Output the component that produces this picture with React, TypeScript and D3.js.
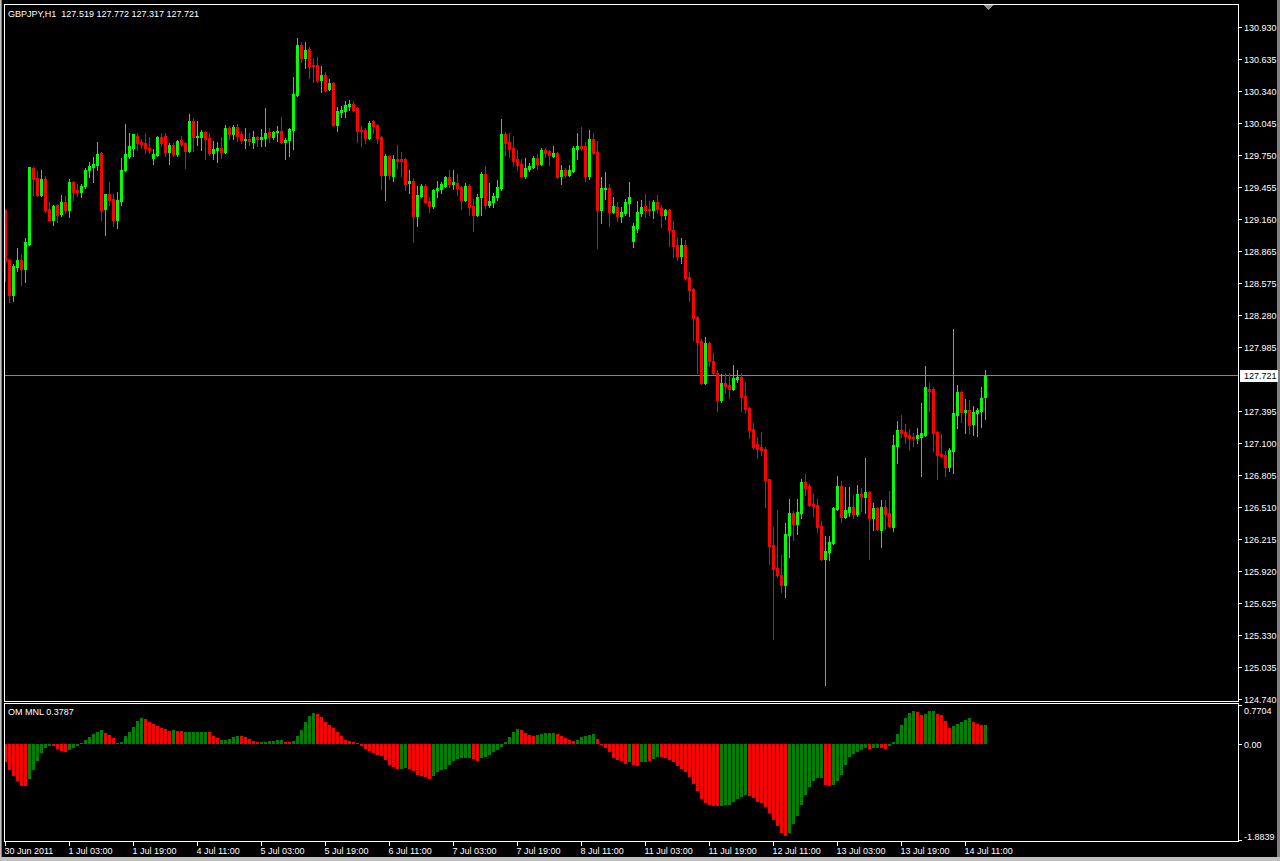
import React from "react";
import * as d3 from "d3";

const SYMBOL_TITLE = "GBPJPY,H1  127.519 127.772 127.317 127.721";
const INDICATOR_TITLE = "OM MNL 0.3787";

const OPEN = [
129.24,128.78,128.46,128.72,128.78,128.70,128.93,129.63,129.54,129.38,
129.53,129.25,129.15,129.29,129.21,129.32,129.24,129.50,129.43,129.41,
129.47,129.61,129.64,129.66,129.77,129.25,129.39,129.35,129.15,129.33,
129.61,129.74,129.82,129.93,129.87,129.86,129.82,129.72,129.75,129.92,
129.93,129.78,129.84,129.76,129.89,129.86,129.79,130.06,129.92,129.92,
129.96,129.91,129.77,129.80,129.82,129.78,130.00,129.94,130.01,129.94,
129.89,129.90,129.87,129.92,129.90,129.91,129.96,129.92,129.96,129.97,
129.87,129.89,129.98,130.30,130.76,130.64,130.73,130.58,130.58,130.44,
130.49,130.36,130.41,130.03,130.15,130.16,130.20,130.22,130.18,129.98,
129.98,129.91,130.06,130.03,129.92,129.57,129.74,129.56,129.71,129.71,
129.71,129.49,129.51,129.19,129.37,129.47,129.33,129.28,129.43,129.44,
129.47,129.55,129.48,129.49,129.46,129.34,129.47,129.28,129.20,129.36,
129.58,129.29,129.32,129.36,129.45,129.94,129.87,129.82,129.71,129.67,
129.56,129.62,129.64,129.72,129.67,129.80,129.79,129.74,129.77,129.56,
129.61,129.57,129.60,129.81,129.83,129.83,129.56,129.90,129.78,129.24,
129.44,129.45,129.23,129.27,129.19,129.22,129.31,128.96,129.08,129.22,
129.28,129.25,129.24,129.32,129.26,129.20,129.24,129.06,128.92,128.82,
128.92,128.63,128.52,128.26,128.04,127.65,128.02,127.85,127.74,127.49,
127.65,127.63,127.60,127.69,127.71,127.53,127.42,127.23,127.09,127.06,
127.04,126.77,126.16,125.95,125.88,125.79,126.25,126.45,126.35,126.45,
126.74,126.70,126.54,126.53,126.33,126.03,126.09,126.18,126.49,126.70,
126.42,126.46,126.51,126.44,126.63,126.60,126.65,126.41,126.50,126.30,
126.51,126.45,126.32,127.07,127.22,127.20,127.17,127.15,127.14,127.15,
127.17,127.60,127.60,127.20,127.00,126.99,126.88,127.02,127.36,127.57,
127.38,127.40,127.27,127.37,127.39,127.519];

const HIGH = [
129.25,128.79,128.75,128.89,128.84,128.99,129.64,129.64,129.60,129.61,
129.56,129.32,129.29,129.30,129.38,129.37,129.53,129.51,129.48,129.48,
129.63,129.69,129.73,129.87,129.78,129.39,129.50,129.39,129.41,129.72,
130.04,129.95,129.94,129.95,129.90,129.95,129.92,129.81,129.93,129.95,
129.95,129.86,129.86,129.89,129.93,129.87,130.13,130.09,130.06,129.98,
129.97,129.95,129.88,129.87,129.92,130.03,130.02,130.03,130.04,129.97,
130.00,129.95,129.97,129.93,129.99,130.18,130.00,129.97,130.02,130.10,
129.91,130.00,130.47,130.83,130.79,130.79,130.75,130.64,130.65,130.57,
130.52,130.45,130.42,130.19,130.20,130.25,130.26,130.25,130.19,130.02,
130.00,130.06,130.07,130.04,129.93,129.76,129.75,129.75,129.84,129.78,
129.72,129.61,129.54,129.47,129.48,129.48,129.36,129.44,129.51,129.50,
129.56,129.61,129.61,129.58,129.47,129.49,129.48,129.35,129.39,129.59,
129.65,129.49,129.40,129.52,130.08,129.96,129.95,129.93,129.80,129.71,
129.72,129.68,129.74,129.76,129.82,129.82,129.80,129.83,129.78,129.66,
129.63,129.66,129.83,129.95,130.01,129.87,129.98,129.95,129.88,129.55,
129.59,129.48,129.36,129.32,129.27,129.35,129.50,129.12,129.33,129.34,
129.39,129.33,129.34,129.38,129.29,129.25,129.25,129.14,129.00,128.99,
128.97,128.67,128.53,128.27,128.06,128.07,128.03,127.93,127.77,127.73,
127.74,127.74,127.82,127.77,127.74,127.66,127.43,127.28,127.15,127.20,
127.06,126.77,126.32,126.48,126.07,126.36,126.58,126.47,126.58,126.77,
126.81,126.72,126.64,126.58,126.38,126.24,126.24,126.51,126.79,126.75,
126.69,126.69,126.62,126.71,126.68,126.96,126.66,126.55,126.51,126.57,
126.57,126.66,127.17,127.30,127.36,127.27,127.23,127.19,127.24,127.47,
127.81,127.65,127.61,127.21,127.18,127.02,127.05,128.15,127.63,127.58,
127.50,127.49,127.44,127.42,127.61,127.772];

const LOW = [
128.59,128.40,128.41,128.68,128.55,128.58,128.92,129.38,129.37,129.37,
129.23,129.14,129.11,129.13,129.19,129.22,129.18,129.34,129.37,129.36,
129.45,129.55,129.50,129.61,129.15,129.01,129.29,129.10,129.08,129.29,
129.60,129.72,129.74,129.80,129.82,129.77,129.77,129.67,129.74,129.83,
129.74,129.67,129.74,129.74,129.83,129.63,129.78,129.79,129.84,129.80,
129.71,129.75,129.71,129.69,129.72,129.77,129.90,129.90,129.88,129.86,
129.82,129.84,129.82,129.83,129.83,129.83,129.87,129.90,129.88,129.86,
129.71,129.74,129.81,130.29,130.61,130.55,130.46,130.42,130.42,130.33,
130.34,130.35,130.02,129.97,130.10,130.10,130.17,130.16,129.87,129.83,
129.86,129.90,129.95,129.86,129.44,129.34,129.53,129.51,129.63,129.56,
129.43,129.40,128.95,129.10,129.36,129.31,129.23,129.26,129.36,129.40,
129.46,129.46,129.44,129.38,129.25,129.33,129.20,129.05,129.19,129.20,
129.26,129.27,129.27,129.34,129.43,129.75,129.73,129.65,129.61,129.55,
129.54,129.60,129.63,129.62,129.66,129.73,129.66,129.73,129.54,129.48,
129.55,129.56,129.59,129.71,129.80,129.51,129.53,129.76,128.89,129.12,
129.35,129.10,129.22,129.14,129.13,129.20,129.19,128.90,129.04,129.19,
129.18,129.20,129.17,129.22,129.09,129.16,128.91,128.81,128.78,128.76,
128.61,128.41,128.05,127.74,127.64,127.64,127.81,127.73,127.39,127.48,
127.56,127.51,127.59,127.66,127.39,127.37,127.14,127.04,126.96,126.99,
126.51,125.98,125.29,125.86,125.73,125.68,126.05,126.20,126.26,126.41,
126.62,126.52,126.43,126.28,126.02,124.87,126.02,126.17,126.48,126.37,
126.41,126.43,126.41,126.43,126.47,126.45,126.03,126.30,126.30,126.14,
126.31,126.32,126.29,126.91,127.15,127.10,127.03,127.07,127.10,126.79,
127.16,127.39,127.02,126.77,126.97,126.79,126.84,126.82,127.24,127.29,
127.19,127.18,127.17,127.16,127.25,127.317];

const CLOSE = [
128.77,128.46,128.73,128.78,128.70,128.95,129.64,129.53,129.38,129.53,
129.24,129.15,129.28,129.20,129.32,129.24,129.50,129.41,129.41,129.47,
129.61,129.65,129.67,129.76,129.24,129.39,129.34,129.15,129.34,129.61,
129.76,129.83,129.94,129.86,129.85,129.82,129.80,129.76,129.92,129.86,
129.78,129.84,129.76,129.88,129.85,129.79,130.06,129.92,129.93,129.96,
129.90,129.77,129.81,129.82,129.78,130.00,129.94,130.01,129.93,129.89,
129.90,129.88,129.92,129.90,129.92,129.95,129.92,129.96,129.97,129.87,
129.89,129.99,130.31,130.76,130.64,130.72,130.57,130.57,130.44,130.49,
130.35,130.41,130.03,130.16,130.17,130.21,130.22,130.17,129.97,129.97,
129.91,130.05,130.02,129.91,129.57,129.74,129.57,129.71,129.70,129.70,
129.48,129.51,129.19,129.38,129.47,129.32,129.28,129.43,129.45,129.48,
129.55,129.48,129.50,129.45,129.34,129.47,129.27,129.20,129.36,129.58,
129.29,129.33,129.37,129.46,129.94,129.86,129.81,129.70,129.66,129.56,
129.63,129.65,129.72,129.67,129.80,129.77,129.75,129.77,129.55,129.61,
129.57,129.61,129.82,129.83,129.82,129.56,129.90,129.77,129.24,129.45,
129.45,129.23,129.28,129.19,129.23,129.32,129.36,129.10,129.23,129.27,
129.24,129.24,129.32,129.25,129.20,129.24,129.06,128.91,128.82,128.92,
128.62,128.51,128.25,128.03,127.65,128.02,127.85,127.74,127.49,127.65,
127.62,127.60,127.70,127.71,127.52,127.41,127.22,127.06,127.04,127.03,
126.76,126.15,125.94,125.88,125.79,126.26,126.45,126.35,126.46,126.74,
126.68,126.53,126.52,126.32,126.03,126.10,126.19,126.50,126.70,126.42,
126.48,126.51,126.44,126.63,126.61,126.65,126.41,126.50,126.31,126.51,
126.44,126.33,127.08,127.22,127.19,127.16,127.14,127.14,127.17,127.19,
127.61,127.58,127.19,126.99,126.98,126.88,127.03,127.37,127.57,127.38,
127.40,127.26,127.38,127.40,127.51,127.721];

const HIST = [
-0.35,-0.50,-0.63,-0.73,-0.83,-0.83,-0.69,-0.50,-0.34,-0.18,
-0.08,-0.04,-0.04,-0.10,-0.14,-0.16,-0.12,-0.08,-0.04,0.02,
0.08,0.14,0.20,0.24,0.28,0.22,0.18,0.12,0.02,0.04,
0.16,0.24,0.34,0.46,0.51,0.50,0.44,0.40,0.36,0.32,
0.30,0.26,0.28,0.26,0.26,0.24,0.24,0.24,0.24,0.24,
0.24,0.24,0.16,0.12,0.08,0.08,0.10,0.14,0.16,0.16,
0.14,0.10,0.06,0.04,0.04,0.04,0.06,0.06,0.08,0.08,
0.04,0.04,0.06,0.16,0.28,0.44,0.55,0.61,0.59,0.53,
0.44,0.38,0.32,0.24,0.16,0.08,0.06,0.04,0.02,-0.04,
-0.10,-0.14,-0.18,-0.22,-0.23,-0.32,-0.40,-0.44,-0.48,-0.48,
-0.46,-0.48,-0.53,-0.61,-0.63,-0.65,-0.69,-0.63,-0.55,-0.51,
-0.48,-0.40,-0.34,-0.30,-0.28,-0.28,-0.28,-0.30,-0.34,-0.28,
-0.26,-0.22,-0.16,-0.12,-0.06,0.04,0.14,0.24,0.30,0.28,
0.22,0.18,0.16,0.18,0.20,0.22,0.22,0.22,0.20,0.16,
0.12,0.08,0.06,0.08,0.14,0.16,0.18,0.20,0.10,-0.02,
-0.08,-0.16,-0.28,-0.32,-0.34,-0.38,-0.36,-0.40,-0.42,-0.36,
-0.36,-0.34,-0.30,-0.26,-0.26,-0.28,-0.32,-0.36,-0.42,-0.48,
-0.55,-0.65,-0.79,-0.93,-1.07,-1.15,-1.19,-1.21,-1.21,-1.21,
-1.19,-1.19,-1.13,-1.07,-1.03,-0.99,-1.01,-1.05,-1.13,-1.15,
-1.23,-1.35,-1.50,-1.60,-1.74,-1.80,-1.74,-1.56,-1.41,-1.19,
-0.99,-0.85,-0.73,-0.67,-0.67,-0.81,-0.83,-0.81,-0.73,-0.61,
-0.40,-0.26,-0.20,-0.16,-0.12,-0.08,-0.10,-0.08,-0.08,-0.08,
-0.10,-0.03,0.04,0.20,0.38,0.51,0.61,0.65,0.63,0.57,
0.59,0.65,0.65,0.59,0.57,0.46,0.32,0.36,0.40,0.44,
0.48,0.51,0.44,0.40,0.38,0.3787];

// G = rising (green) bar, R = falling (red) bar
const HIST_DIR = (
  "RRRRRR GGGGGG RRRR GGGGGGGGG RRRR GGGGGG RRRRRRR G RR GGGGGG RRR GGGGG RRRRR GGGGGG RR GGGGGG " +
  "RRRRRRRRRRRRRRRRRRRRR GG RRRRRR GGGGGGGGGG RR GGGGGGGGGG RRRR GGGGG RRRRR GGGGG RRRRRRRR G RR GG R GG " +
  "RRRRRRRRRRRRRRR GGGGGGG RRRRRRRRRR GGGGGGGGG RR GGGGGGGGG R GG RR GGGGGGG RR GGG RRRR GGGGG RRR G"
).replace(/\s/g, "");

const TIME_LABELS = [
  "30 Jun 2011", "1 Jul 03:00", "1 Jul 19:00", "4 Jul 11:00", "5 Jul 03:00", "5 Jul 19:00",
  "6 Jul 11:00", "7 Jul 03:00", "7 Jul 19:00", "8 Jul 11:00", "11 Jul 03:00", "11 Jul 19:00",
  "12 Jul 11:00", "13 Jul 03:00", "13 Jul 19:00", "14 Jul 11:00",
];
const TIME_LABEL_BARS = [0, 16, 32, 48, 64, 80, 96, 112, 128, 144, 160, 176, 192, 208, 224, 240];

const PRICE_TICKS = [
  130.93, 130.635, 130.34, 130.045, 129.75, 129.455, 129.16, 128.865, 128.575, 128.28,
  127.985, 127.395, 127.1, 126.805, 126.51, 126.215, 125.92, 125.625, 125.33, 125.035, 124.74,
];
const CURRENT_PRICE = 127.721;
const IND_MAX = 0.7704;
const IND_MIN = -1.8839;
const PRICE_MAX = 130.93;
const PRICE_MIN = 124.74;

const FONT = "Tahoma, 'Liberation Sans', Arial, sans-serif";
const BULL = "#00ff00";
const BEAR = "#ff0000";
const H_UP = "#008000";
const H_DN = "#ff0000";

export default function App() {
  const n = Math.min(OPEN.length, HIGH.length, LOW.length, CLOSE.length);
  const x = d3.scaleLinear().domain([0, n - 1]).range([5, 985]);
  const y = d3.scaleLinear().domain([PRICE_MIN, PRICE_MAX]).range([699, 27]);
  const yi = d3.scaleLinear().domain([IND_MIN, IND_MAX]).range([840, 705]);

  const candles = d3.range(n).map((i) => {
    const o = OPEN[i], h = HIGH[i], l = LOW[i], c = CLOSE[i];
    const cx = Math.round(x(i));
    const bull = c >= o;
    const col = bull ? BULL : BEAR;
    const yh = Math.round(y(h));
    const yl = Math.round(y(l));
    const yt = Math.round(y(Math.max(o, c)));
    const yb = Math.round(y(Math.min(o, c)));
    return (
      <g key={i} fill={col}>
        <rect x={cx} y={yh} width={1} height={Math.max(1, yl - yh + 1)} />
        <rect x={cx - 1} y={yt} width={3} height={Math.max(1, yb - yt + 1)} />
      </g>
    );
  });

  const y0 = Math.round(yi(0));
  const bars = HIST.slice(0, n).map((v, i) => {
    const cx = Math.round(x(i));
    const yv = Math.round(yi(v));
    const top = Math.min(y0, yv);
    const h = Math.max(1, Math.abs(yv - y0));
    const col = HIST_DIR[i] === "G" ? H_UP : H_DN;
    return <rect key={i} x={cx - 1} y={top} width={3} height={h} fill={col} />;
  });

  const cpY = Math.round(y(CURRENT_PRICE)) + 0.5;

  return (
    <svg
      width={1280}
      height={861}
      style={{ position: "absolute", left: 0, top: 0, display: "block", background: "#000" }}
      shapeRendering="crispEdges"
    >
      <rect x={0} y={0} width={1280} height={861} fill="#000" />
      <defs>
        <clipPath id="mainClip">
          <rect x={5} y={5} width={1233} height={696} />
        </clipPath>
        <clipPath id="indClip">
          <rect x={5} y={704} width={1233} height={137} />
        </clipPath>
      </defs>

      {/* window frame */}
      <rect x={0} y={0} width={1} height={861} fill="#c0c0c0" />
      <rect x={1} y={0} width={1} height={861} fill="#808080" />
      <rect x={1277} y={0} width={3} height={861} fill="#808080" />
      <rect x={0} y={857} width={1280} height={4} fill="#c0c0c0" />

      {/* current price line */}
      <line x1={5} x2={1238} y1={cpY} y2={cpY} stroke="#778899" strokeWidth={1} />

      <g clipPath="url(#mainClip)">{candles}</g>
      <g clipPath="url(#indClip)">{bars}</g>

      {/* panel borders */}
      <rect x={4.5} y={4.5} width={1234} height={697} fill="none" stroke="#fff" strokeWidth={1} />
      <rect x={4.5} y={703.5} width={1234} height={138} fill="none" stroke="#fff" strokeWidth={1} />

      {/* shift marker */}
      <polygon points="984,5 993,5 988.5,10" fill="#909090" />

      {/* title texts */}
      <text x={8} y={16.5} fill="#fff" fontFamily={FONT} fontSize={9} style={{ whiteSpace: "pre" }}>
        {SYMBOL_TITLE}
      </text>
      <text x={8} y={715} fill="#fff" fontFamily={FONT} fontSize={9}>
        {INDICATOR_TITLE}
      </text>

      {/* price axis */}
      {PRICE_TICKS.map((v) => {
        const py = Math.round(y(v)) + 0.5;
        return (
          <g key={v}>
            <line x1={1239} x2={1242} y1={py} y2={py} stroke="#fff" />
            <text x={1244} y={py + 3.2} fill="#fff" fontFamily={FONT} fontSize={9}>
              {v.toFixed(3)}
            </text>
          </g>
        );
      })}
      <rect x={1240} y={cpY - 6} width={38} height={12} fill="#fff" />
      <text x={1244} y={cpY + 3.2} fill="#000" fontFamily={FONT} fontSize={9}>
        {CURRENT_PRICE.toFixed(3)}
      </text>

      {/* indicator axis */}
      {[IND_MAX, 0, IND_MIN].map((v, k) => {
        const py = Math.round(yi(v)) + 0.5;
        const ty = k === 0 ? py + 8.5 : k === 2 ? py - 1 : py + 3.2;
        return (
          <g key={k}>
            <line x1={1239} x2={1242} y1={py} y2={py} stroke="#fff" />
            <text x={1244} y={ty} fill="#fff" fontFamily={FONT} fontSize={9}>
              {v === 0 ? "0.00" : v.toFixed(4)}
            </text>
          </g>
        );
      })}

      {/* time axis */}
      {TIME_LABELS.map((t, k) => {
        const tx = Math.round(x(TIME_LABEL_BARS[k])) + 0.5;
        return (
          <g key={t}>
            <line x1={tx} x2={tx} y1={842} y2={846} stroke="#fff" />
            <text x={tx - 1} y={853.5} fill="#fff" fontFamily={FONT} fontSize={9}>
              {t}
            </text>
          </g>
        );
      })}
    </svg>
  );
}
